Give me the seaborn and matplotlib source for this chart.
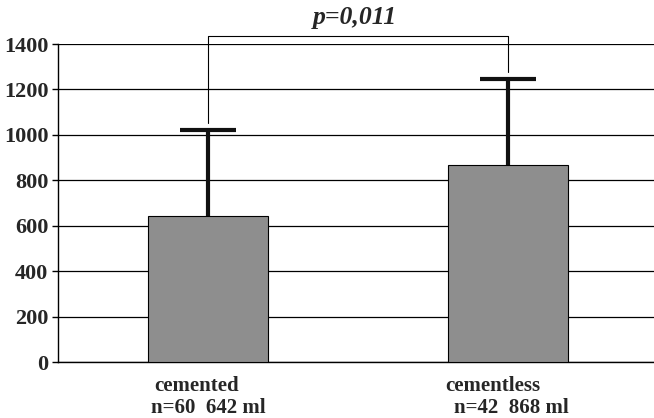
import matplotlib
matplotlib.use("Agg")
import matplotlib.pyplot as plt
import seaborn as sns
import pandas as pd

# === Data ===
groups = ["cemented", "cementless"]
name_labels = ["cemented", "cementless"]
n_labels = ["n=60  642 ml", "n=42  868 ml"]
mean_ml = [642, 868]
sd_ml = [378, 377]
p_text = "p=0,011"

df = pd.DataFrame({"group": groups, "blood_loss": mean_ml})

# === Style ===
sns.set_style("white")
plt.rcParams["font.family"] = ["Liberation Serif", "DejaVu Serif"]

fig = plt.figure(figsize=(6.54, 4.18), dpi=100)
ax = fig.add_axes([58 / 654, 56 / 418, 596 / 654, 318 / 418])

sns.barplot(data=df, x="group", y="blood_loss", color="#8e8e8e",
            edgecolor="black", linewidth=0.8, width=0.4, saturation=1,
            errorbar=None, ax=ax, zorder=3)

# upper error bars only (hide the lower cap)
eb = ax.errorbar(range(len(groups)), mean_ml, yerr=[[0, 0], sd_ml], fmt="none",
                 ecolor="#111111", elinewidth=3, capsize=20.5, capthick=3, zorder=2)
eb[1][0].set_visible(False)

# === Axes ===
ax.set_ylim(0, 1400)
ax.set_xlim(-0.5, 1.487)
ax.set_yticks(range(0, 1401, 200))
ax.yaxis.grid(True, color="black", linewidth=0.9)
ax.set_axisbelow(True)
for s in ["left", "bottom"]:
    ax.spines[s].set_color("black")
    ax.spines[s].set_linewidth(1.0)
sns.despine(ax=ax, top=True, right=True)

ax.set_xticks(range(len(groups)))
ax.set_xticklabels([])
ax.set_xticks([0.5], minor=True)
ax.tick_params(axis="x", which="major", length=0)
ax.tick_params(axis="x", which="minor", length=4, width=1, color="black", direction="out")
ax.tick_params(axis="y", left=True, length=4, width=1, color="black", direction="out",
               pad=3, labelsize=16)
for lbl in ax.get_yticklabels():
    lbl.set_fontweight("bold")
ax.set_xlabel("")
ax.set_ylabel("")

# category labels (two lines, slightly offset as in the original)
trans = ax.get_xaxis_transform()
name_dx = [-0.037, -0.05]
n_dx = [0.0, 0.013]
for i in range(len(groups)):
    ax.text(i + name_dx[i], -0.045, name_labels[i], transform=trans, ha="center",
            va="top", fontsize=15, fontweight="bold")
    ax.text(i + n_dx[i], -0.112, n_labels[i], transform=trans, ha="center",
            va="top", fontsize=15, fontweight="bold")

# === Significance bracket ===
ax.plot([0, 0, 1, 1], [1052, 1435, 1435, 1277], color="black", linewidth=0.8,
        clip_on=False, zorder=4)
ax.text(0.49, 1468, p_text, ha="center", va="bottom", fontsize=18.5,
        fontweight="bold", fontstyle="italic")

plt.savefig("out.png", dpi=100)
